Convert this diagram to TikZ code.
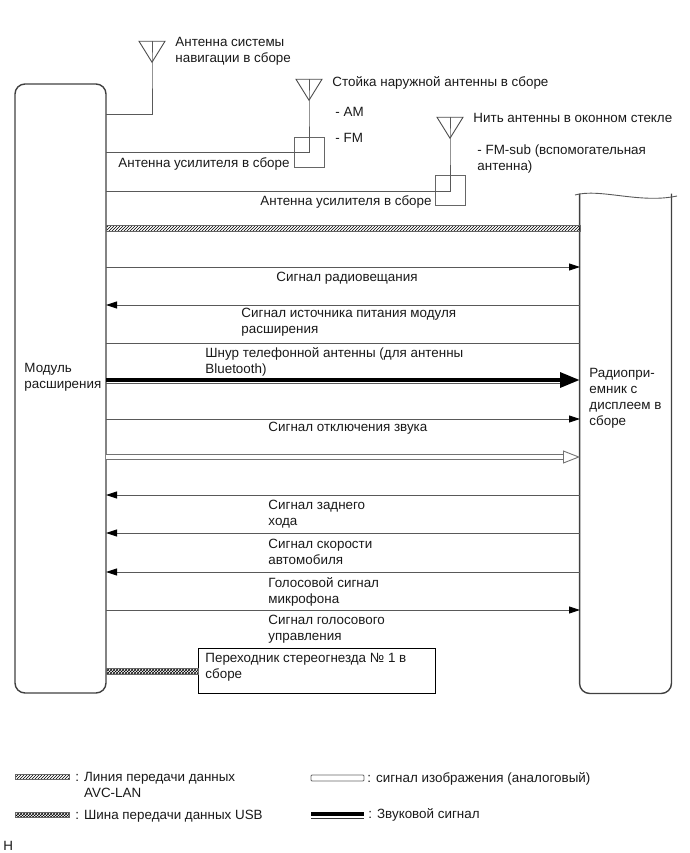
\documentclass[tikz,border=0pt]{standalone}
\usepackage{fontspec}
\setmainfont{Liberation Sans}
\usetikzlibrary{arrows.meta,patterns,positioning,shapes.geometric}

\begin{document}
\begin{tikzpicture}[x=1pt,y=-1pt,line width=0.9pt,font=\fontsize{13.4}{16}\selectfont,
    wire/.style={draw=black!65},
    block/.style={draw=black!75,line width=1.4pt},
    lbl/.style={anchor=north west,inner sep=0pt,align=left,text=black!90,yshift=-3pt},
    antenna/.style={isosceles triangle,isosceles triangle stretches,shape border rotate=-90,draw=black!70,minimum width=26pt,minimum height=21pt,inner sep=0pt},
    ampbox/.style={rectangle,draw=black!60,minimum size=30pt,inner sep=0pt},
    sigtip/.style={wire,-{Triangle[length=11pt,width=7pt,color=black]}},
    avcbus/.style={draw=black!60,line width=0.5pt,pattern=north east lines},
    usbbus/.style={draw=black!60,line width=0.5pt,pattern=crosshatch},
    audio/.style={draw=black,line width=4.5pt},
    video/.style={draw=black!55,line width=0.9pt,double=white,double distance=4.4pt}]

    \useasboundingbox (0,0) rectangle (689,853);

    \node[block,rectangle,rounded corners=10pt,minimum width=91pt,minimum height=609pt,inner sep=0pt] (module) at (60.5,388.5) {};
    \node[minimum width=91pt,minimum height=499pt,inner sep=0pt] (radio) at (625.5,443.5) {};
    \node[block,rectangle,draw=black,line width=1pt,minimum width=237pt,minimum height=45pt,inner sep=0pt] (jack) at (316.5,670.5) {};

    \draw[block,rounded corners=10pt] (radio.north west) -- (radio.south west) -- (radio.south east) -- (radio.north east);
    \draw[wire] (575,195) .. controls (600,188) and (640,204) .. (677,196);

    % antennas
    \node[antenna] (ant1) at (152,48.5) {};
    \node[antenna] (ant2) at (309,86.5) {};
    \node[antenna] (ant3) at (450,124.5) {};
    \node[ampbox] (amp1) at (309,152) {};
    \node[ampbox] (amp2) at (450.5,190.5) {};

    \coordinate (ma1) at (106,114);
    \coordinate (ma2) at (106,152);
    \coordinate (ma3) at (106,191);

    \draw[wire] (ant1.lower side) -- (ant1.apex) |- (ma1);
    \draw[wire] (ant2.lower side) -- (ant2.apex) |- (ma2);
    \draw[wire] (ant3.lower side) -- (ant3.apex) |- (ma3);

    % signal lines
    \coordinate (m1) at (106,267);  \coordinate (r1) at (580,267);
    \coordinate (m2) at (106,305);  \coordinate (r2) at (580,305);
    \coordinate (m3) at (106,343);  \coordinate (r3) at (580,343);
    \coordinate (m4) at (106,380);  \coordinate (r4) at (580,380);
    \coordinate (m5) at (106,419);  \coordinate (r5) at (580,419);
    \coordinate (m6) at (106,457);  \coordinate (r6) at (580,457);
    \coordinate (m7) at (106,495);  \coordinate (r7) at (580,495);
    \coordinate (m8) at (106,533);  \coordinate (r8) at (580,533);
    \coordinate (m9) at (106,572);  \coordinate (r9) at (580,572);
    \coordinate (m10) at (106,610); \coordinate (r10) at (580,610);
    \coordinate (m4b) at (106,383.5); \coordinate (r4b) at (562,383.5);
    \coordinate (avcA) at (106,225); \coordinate (avcB) at (580,231);
    \coordinate (usbA) at (106,668); \coordinate (usbB) at (198,674);

    \draw[avcbus] (avcA) rectangle (avcB);
    \draw[usbbus] (usbA) rectangle (usbB);

    \path
        (m1) edge[sigtip] (r1)
        (r2) edge[sigtip] (m2)
        (m3) edge[wire] (r3)
        (m4b) edge[wire] (r4b)
        (m5) edge[sigtip] (r5)
        (r7) edge[sigtip] (m7)
        (r8) edge[sigtip] (m8)
        (r9) edge[sigtip] (m9)
        (m10) edge[sigtip] (r10)
        ;
    \draw[audio,-{Triangle[length=20pt,width=14.5pt,sep=0pt]},shorten >=0pt] (m4) -- (r4);
    \draw[video,-{Triangle[open,length=17pt,width=13pt,fill=white]}] (m6) -- (r6);

    % labels
    \node[lbl] (nav) at (175,34) {Антенна системы\\навигации в сборе};
    \node[lbl] (mast) at (332,73) {Стойка наружной антенны в сборе};
    \node[lbl] (am) at (335,104) {- AM};
    \node[lbl] (fm) at (335,130) {- FM};
    \node[lbl] (glass) at (473,110) {Нить антенны в оконном стекле};
    \node[lbl] (fmsub) at (477,141) {- FM-sub (вспомогательная\\антенна)};
    \node[lbl] (ampa) at (118,154) {Антенна усилителя в сборе};
    \node[lbl] (ampb) at (260,192) {Антенна усилителя в сборе};
    \node[lbl] (s1) at (276,269) {Сигнал радиовещания};
    \node[lbl] (s2) at (241,305) {Сигнал источника питания модуля\\расширения};
    \node[lbl] (s4) at (205,344) {Шнур телефонной антенны (для антенны\\Bluetooth)};
    \node[lbl] (s5) at (268,419) {Сигнал отключения звука};
    \node[lbl] (s7) at (268,497) {Сигнал заднего\\хода};
    \node[lbl] (s8) at (268,536) {Сигнал скорости\\автомобиля};
    \node[lbl] (s9) at (268,574) {Голосовой сигнал\\микрофона};
    \node[lbl] (s10) at (268,612) {Сигнал голосового\\управления};
    \node[lbl] (jacktxt) at (205,650) {Переходник стереогнезда № 1 в\\сборе};
    \node[lbl] (modtxt) at (24,360) {Модуль\\расширения};
    \node[lbl] (radiotxt) at (589,365) {Радиопри-\\емник с\\дисплеем в\\сборе};

    % legend
    \node[avcbus,rectangle,minimum width=54pt,minimum height=5pt,inner sep=0pt] (keyavc) at (42,777) {};
    \node[usbbus,rectangle,minimum width=54pt,minimum height=5pt,inner sep=0pt] (keyusb) at (42,815) {};
    \node[rectangle,rounded corners=1pt,draw=black!60,minimum width=53pt,minimum height=6pt,inner sep=0pt] (keyvid) at (337.5,778) {};
    \node[rectangle,fill=black,minimum width=53pt,minimum height=4pt,inner sep=0pt] (keyaud) at (337.5,814) {};
    \node[rectangle,fill=black!80,minimum width=53pt,minimum height=1pt,inner sep=0pt,below=1.5pt of keyaud] (keyaudb) {};
    \node[lbl] (txtavc) at (75,769) {: Линия передачи данных\\\phantom{: }AVC-LAN};
    \node[lbl] (txtusb) at (75,807) {: Шина передачи данных USB};
    \node[lbl] (txtvid) at (367,769) {: сигнал изображения (аналоговый)};
    \node[lbl] (txtaud) at (368,805) {: Звуковой сигнал};
    \node[lbl] (corner) at (3,838) {H};
\end{tikzpicture}
\end{document}
